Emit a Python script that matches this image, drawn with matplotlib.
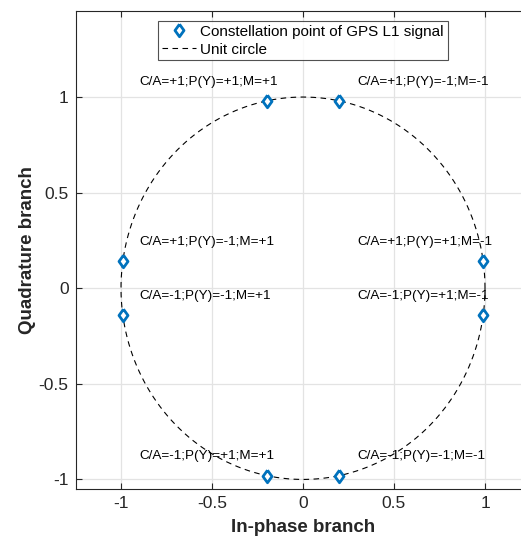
import numpy as np
import matplotlib
matplotlib.use("Agg")
import matplotlib.pyplot as plt

plt.rcParams['font.family'] = ['Liberation Sans', 'DejaVu Sans']

# Constellation points (I, Q)
I_vals = [-0.2, 0.2, -0.99, 0.99, -0.99, 0.99, -0.2, 0.2]
Q_vals = [0.98, 0.98, 0.14, 0.14, -0.14, -0.14, -0.98, -0.98]
labels = ["C/A=+1;P(Y)=+1;M=+1", "C/A=+1;P(Y)=-1;M=-1",
          "C/A=+1;P(Y)=-1;M=+1", "C/A=+1;P(Y)=+1;M=-1",
          "C/A=-1;P(Y)=-1;M=+1", "C/A=-1;P(Y)=+1;M=-1",
          "C/A=-1;P(Y)=+1;M=+1", "C/A=-1;P(Y)=-1;M=-1"]
label_x = [-0.9, 0.3, -0.9, 0.3, -0.9, 0.3, -0.9, 0.3]
label_dy = 0.1
xticks = [-1, -0.5, 0, 0.5, 1]
yticks = [-1, -0.5, 0, 0.5, 1]
tick_labels = ["-1", "-0.5", "0", "0.5", "1"]

fig = plt.figure(figsize=(5.21, 5.43), dpi=100)
ax = fig.add_axes([75.5/521, (543-489)/543, 455/521, 478/543])

diamond = [(0, 1), (0.72, 0), (0, -1), (-0.72, 0), (0, 1)]
t = np.linspace(0, 2*np.pi, 400)
ax.plot(I_vals, Q_vals, linestyle='none', marker=diamond, markersize=9,
        markerfacecolor='white', markeredgecolor='#0072BD', markeredgewidth=2.0,
        label='Constellation point of GPS L1 signal', zorder=4)
ax.plot(np.cos(t), np.sin(t), 'k--', lw=0.8, dashes=(5, 4), label='Unit circle', zorder=3)

for x, yq, s in zip(label_x, Q_vals, labels):
    ax.text(x, yq + label_dy, s, fontsize=9.7, ha='left', va='center', color='black', zorder=5)

ax.set_xlim(-1.25, 1.25)
ax.set_ylim(-1.05, 1.45)
ax.set_xticks(xticks)
ax.set_xticklabels(tick_labels)
ax.set_yticks(yticks)
ax.set_yticklabels(tick_labels)
ax.grid(True, color='#e3e3e3', lw=0.9, zorder=0)
ax.set_axisbelow(True)
ax.tick_params(direction='in', length=4, width=0.8, top=True, right=False,
               labelsize=12.5, colors='#262626', pad=5)
for sp in ax.spines.values():
    sp.set_color('#262626')
    sp.set_linewidth(0.8)
ax.spines['right'].set_visible(False)

ax.set_xlabel('In-phase branch', fontsize=13.5, fontweight='bold', color='#262626', labelpad=6)
ax.set_ylabel('Quadrature branch', fontsize=13.5, fontweight='bold', color='#262626', labelpad=2)

leg = ax.legend(loc='upper center', bbox_to_anchor=(0.5, 1 - 10/478), fontsize=11,
                frameon=True, fancybox=False, edgecolor='#262626', borderpad=0.25,
                handlelength=2.2, handletextpad=0.3, labelspacing=0.25, borderaxespad=0)
leg.get_frame().set_linewidth(0.8)

fig.savefig('out.png', dpi=100)
